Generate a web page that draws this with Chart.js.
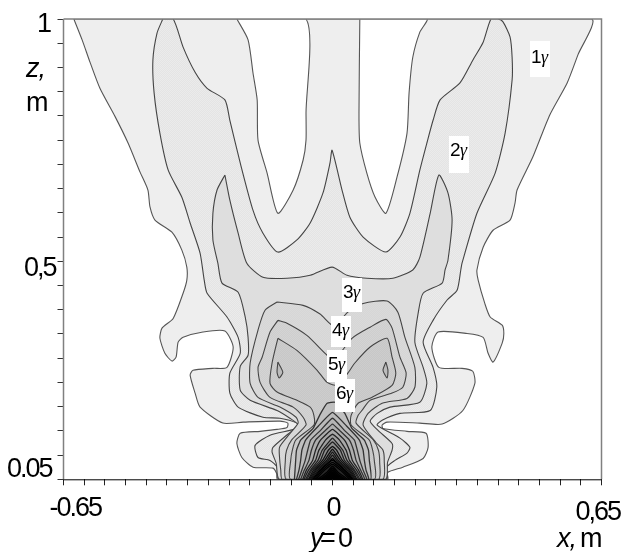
<!DOCTYPE html>
<html><head><meta charset="utf-8">
<style>html,body{margin:0;padding:0;background:#fff}canvas{display:block}</style>
<script src="https://cdn.jsdelivr.net/npm/chart.js@4/dist/chart.umd.min.js"></script>
</head><body><canvas id="c" width="624" height="552"></canvas>
<script>
// contour outlines, [x metres, z metres]
const level1=[[-.625,1],[-.605,.957],[-.586,.911],[-.562,.857],[-.525,.798],[-.494,.744],[-.465,.684],[-.446,.647],[-.441,.612],[-.429,.585],[-.388,.560],[-.364,.523],[-.352,.488],[-.352,.461],[-.361,.434],[-.385,.382],[-.412,.362],[-.417,.341],[-.405,.310],[-.388,.294],[-.378,.302],[-.373,.333],[-.361,.343],[-.313,.354],[-.260,.356],[-.240,.323],[-.255,.281],[-.289,.279],[-.337,.275],[-.344,.265],[-.332,.228],[-.320,.199],[-.265,.166],[-.216,.168],[-.127,.170],[-.108,.166],[-.110,.157],[-.134,.153],[-.175,.149],[-.223,.145],[-.231,.124],[-.219,.095],[-.192,.075],[-.144,.073],[-.135,.062],[-.133,.05],[.133,.05],[.133,.064],[.170,.075],[.219,.093],[.231,.116],[.226,.145],[.180,.149],[.122,.155],[.120,.162],[.132,.168],[.211,.166],[.265,.164],[.315,.192],[.344,.248],[.339,.273],[.313,.279],[.257,.281],[.240,.323],[.255,.354],[.325,.351],[.364,.343],[.376,.310],[.388,.292],[.410,.331],[.414,.351],[.410,.368],[.381,.385],[.368,.413],[.352,.461],[.349,.482],[.364,.529],[.388,.564],[.429,.585],[.441,.620],[.446,.647],[.484,.715],[.525,.802],[.567,.868],[.593,.926],[.625,1]];
const holeLeft=[[-.231,1],[-.204,.957],[-.192,.888],[-.182,.833],[-.180,.750],[-.158,.682],[-.132,.599],[-.095,.647],[-.071,.709],[-.064,.750],[-.064,.806],[-.064,1]];
const holeRight=[[.066,1],[.064,.806],[.066,.744],[.083,.682],[.103,.632],[.129,.599],[.156,.674],[.180,.764],[.185,.847],[.194,.921],[.211,.973],[.228,1]];
const level2=[[-.410,1],[-.424,.971],[-.434,.915],[-.431,.847],[-.417,.764],[-.397,.688],[-.364,.632],[-.344,.579],[-.320,.517],[-.310,.461],[-.303,.434],[-.255,.385],[-.228,.343],[-.223,.310],[-.248,.269],[-.248,.228],[-.228,.199],[-.168,.178],[-.127,.176],[-.086,.166],[-.079,.157],[-.103,.151],[-.151,.141],[-.187,.120],[-.180,.095],[-.151,.089],[-.134,.075],[-.130,.05],[.130,.05],[.131,.075],[.151,.089],[.180,.104],[.187,.116],[.163,.135],[.108,.162],[.120,.172],[.163,.186],[.236,.192],[.252,.240],[.243,.281],[.219,.333],[.243,.378],[.277,.420],[.301,.440],[.310,.482],[.313,.496],[.349,.599],[.393,.682],[.417,.764],[.434,.874],[.434,.921],[.429,.963],[.412,.994],[.400,1],[.383,1],[.364,.952],[.339,.915],[.308,.868],[.260,.833],[.243,.791],[.228,.744],[.211,.688],[.187,.599],[.163,.550],[.129,.519],[.074,.550],[.042,.591],[.023,.647],[-.001,.729],[-.006,.703],[-.023,.641],[-.054,.579],[-.086,.544],[-.132,.519],[-.168,.558],[-.192,.605],[-.223,.703],[-.248,.791],[-.260,.833],[-.303,.857],[-.332,.890],[-.361,.942],[-.385,1]];
const level3=[[-.260,.678],[-.279,.647],[-.289,.599],[-.289,.544],[-.277,.496],[-.267,.455],[-.228,.436],[-.211,.385],[-.204,.343],[-.204,.306],[-.223,.283],[-.223,.234],[-.199,.213],[-.134,.192],[-.103,.176],[-.083,.162],[-.108,.143],[-.144,.116],[-.146,.106],[-.136,.083],[-.128,.05],[.128,.05],[.133,.085],[.144,.110],[.144,.124],[.110,.151],[.091,.170],[.108,.186],[.139,.199],[.211,.209],[.228,.248],[.219,.281],[.199,.333],[.207,.393],[.219,.434],[.265,.455],[.272,.482],[.279,.502],[.289,.585],[.279,.641],[.257,.678],[.236,.599],[.211,.508],[.194,.482],[.146,.465],[.083,.465],[.035,.471],[-.001,.488],[-.054,.471],[-.110,.465],[-.168,.467],[-.207,.496],[-.228,.558],[-.248,.626]];
const level4=[[-.134,.416],[-.163,.399],[-.180,.358],[-.199,.290],[-.199,.248],[-.180,.219],[-.127,.199],[-.088,.178],[-.083,.166],[-.110,.137],[-.128,.116],[-.128,.095],[-.125,.069],[-.121,.05],[.121,.05],[.125,.089],[.122,.110],[.105,.126],[.074,.162],[.086,.186],[.120,.207],[.180,.217],[.199,.240],[.199,.281],[.175,.343],[.158,.395],[.132,.418],[.074,.413],[.037,.395],[.004,.366],[-.030,.391],[-.071,.409]];
const level5=[[-.132,.378],[-.151,.354],[-.170,.302],[-.180,.281],[-.175,.250],[-.151,.219],[-.095,.199],[-.071,.178],[-.064,.162],[-.099,.131],[-.111,.110],[-.114,.089],[-.111,.05],[.111,.05],[.114,.085],[.111,.110],[.099,.131],[.057,.166],[.062,.182],[.071,.192],[.091,.213],[.144,.228],[.170,.240],[.178,.269],[.163,.302],[.144,.362],[.129,.380],[.091,.364],[.047,.341],[.004,.296],[-.013,.306],[-.062,.347],[-.110,.372]];
const level6=[[-.132,.341],[-.146,.290],[-.151,.248],[-.134,.230],[-.086,.213],[-.054,.199],[-.045,.182],[-.045,.162],[-.089,.131],[-.097,.110],[-.101,.089],[-.101,.05],[.101,.05],[.101,.089],[.097,.110],[.089,.131],[.045,.162],[.045,.182],[.062,.207],[.095,.219],[.144,.244],[.153,.269],[.144,.302],[.132,.341],[.091,.323],[.054,.290],[.037,.269],[.013,.244],[-.013,.250],[-.037,.275],[-.086,.316]];
const eyeLeft=[[-.132,.292],[-.120,.271],[-.129,.259],[-.134,.271]];
const eyeRight=[[.129,.292],[.134,.275],[.132,.259],[.122,.275]];
const level7=[[-.092,.05],[-.089,.089],[-.087,.110],[-.077,.131],[-.047,.155],[-.030,.184],[-.013,.207],[.006,.209],[.030,.186],[.047,.155],[.077,.131],[.087,.110],[.089,.089],[.092,.05]];
const level8=[[-.087,.05],[-.081,.069],[-.077,.089],[-.074,.110],[-.065,.131],[-.034,.160],[0,.188],[.034,.160],[.065,.131],[.074,.110],[.077,.089],[.081,.069],[.087,.05]];
const level9=[[-.082,.05],[-.074,.069],[-.066,.089],[-.060,.110],[-.053,.131],[-.029,.151],[0,.176],[.029,.151],[.053,.131],[.060,.110],[.066,.089],[.074,.069],[.082,.05]];
const level10=[[-.077,.05],[-.068,.069],[-.057,.089],[-.051,.110],[-.041,.131],[-.017,.151],[0,.164],[.017,.151],[.041,.131],[.051,.110],[.057,.089],[.068,.069],[.077,.05]];
const level11=[[-.072,.05],[-.063,.069],[-.048,.089],[-.041,.110],[-.029,.131],[0,.153],[.029,.131],[.041,.110],[.048,.089],[.063,.069],[.072,.05]];
const level12=[[-.069,.05],[-.058,.069],[-.041,.089],[-.033,.110],[-.017,.131],[0,.143],[.017,.131],[.033,.110],[.041,.089],[.058,.069],[.069,.05]];
const level13=[[-.065,.05],[-.053,.069],[-.035,.089],[-.025,.110],[-.005,.131],[0,.135],[.005,.131],[.025,.110],[.035,.089],[.053,.069],[.065,.05]];
const level14=[[-.062,.05],[-.050,.069],[-.029,.089],[-.019,.110],[0,.127],[.019,.110],[.029,.089],[.050,.069],[.062,.05]];
const level15=[[-.058,.05],[-.046,.069],[-.024,.089],[-.010,.110],[0,.118],[.010,.110],[.024,.089],[.046,.069],[.058,.05]];
const level16=[[-.056,.05],[-.042,.069],[-.019,.089],[0,.112],[.019,.089],[.042,.069],[.056,.05]];
const level17=[[-.053,.05],[-.039,.069],[-.014,.089],[0,.106],[.014,.089],[.039,.069],[.053,.05]];
const level18=[[-.051,.05],[-.035,.069],[-.010,.089],[0,.100],[.010,.089],[.035,.069],[.051,.05]];
const level19=[[-.048,.05],[-.031,.069],[-.005,.089],[0,.093],[.005,.089],[.031,.069],[.048,.05]];
const level20=[[-.046,.05],[-.028,.069],[0,.089],[.028,.069],[.046,.05]];
const level21=[[-.043,.05],[-.024,.069],[0,.085],[.024,.069],[.043,.05]];
const level22=[[-.040,.05],[-.019,.069],[0,.081],[.019,.069],[.040,.05]];
const level23=[[-.036,.05],[-.014,.064],[0,.077],[.014,.064],[.036,.05]];
const level24=[[-.031,.05],[-.014,.06],[0,.073],[.014,.06],[.031,.05]];
const level25=[[-.027,.05],[-.012,.058],[0,.069],[.012,.058],[.027,.05]];
const level26=[[-.019,.05],[-.010,.056],[0,.064],[.010,.056],[.019,.05]];

const xTickValues=[-.65,0,.65];
const xTickLabels=["-0.65","0","0,65"];
const zTickValues=[1,.5,.05];
const zTickLabels=["1","0,5","0.05"];

function stipple(a,b){const p=document.createElement('canvas');p.width=p.height=2;const g=p.getContext('2d');
 g.fillStyle=a;g.fillRect(0,0,2,2);g.fillStyle=b;g.fillRect(0,0,1,1);g.fillRect(1,1,1,1);
 return g.createPattern(p,'repeat');}

const layers=[
 [level1,'#eeeeee','#555'],[holeLeft,'#ffffff','#555'],[holeRight,'#ffffff','#555'],
 [level2,stipple('#e4e4e4','#ebebeb'),'#444'],[level3,'#dedede','#444'],[level4,stipple('#d6d6d6','#dadada'),'#444'],
 [level5,stipple('#cecece','#d4d4d4'),'#444'],[level6,stipple('#c7c7c7','#cdcdcd'),'#444'],
 [eyeLeft,'#bcbcbc','#444'],[eyeRight,'#bcbcbc','#444'],
 [level7,'#c0c0c0','#333'],[level8,'#bababa','#333'],[level9,'#b4b4b4','#333'],[level10,'#aeaeae','#333'],
 [level11,'#a8a8a8','#222'],[level12,'#a0a0a0','#222'],[level13,'#989898','#222'],[level14,'#8e8e8e','#222'],
 [level15,'#848484','#111'],[level16,'#787878','#111'],[level17,'#6c6c6c','#111'],[level18,'#606060','#111'],
 [level19,'#525252','#000'],[level20,'#444444','#000'],[level21,'#363636','#000'],[level22,'#282828','#000'],
 [level23,'#1a1a1a','#000'],[level24,'#0e0e0e','#000'],[level25,'#060606','#000'],[level26,'#000000','#000']
];

const datasets=layers.map(([pts,fill,line],i)=>({
 data:pts.concat([pts[0]]).map(p=>({x:p[0],y:p[1]})),
 showLine:true,fill:'shape',backgroundColor:fill,borderColor:line,borderWidth:i>=10?1.3:1.1,
 pointRadius:0,tension:i>=10?.12:.22,order:-i
}));

const textPlugin={id:'texts',afterDraw(chart){
 const c=chart.ctx,a=chart.chartArea,xs=chart.scales.x,ys=chart.scales.y;
 c.save();
 c.strokeStyle='#808080';c.lineWidth=1.5;c.beginPath();
 c.moveTo(a.left,a.top);c.lineTo(a.right,a.top);c.lineTo(a.right,a.bottom);
 c.moveTo(a.left,a.top);c.lineTo(a.left,a.bottom);c.stroke();
 c.strokeStyle='#000';c.lineWidth=1;c.beginPath();c.moveTo(a.left,a.bottom+.5);c.lineTo(a.right,a.bottom+.5);c.stroke();
 c.fillStyle='#000';c.textBaseline='alphabetic';c.textAlign='left';
 const sans='27px "Liberation Sans"',ital='italic 27px "Liberation Sans"';
 const put=(t,x,y,f,s)=>{c.font=f||sans;c.letterSpacing=(s===undefined?-2:s)+'px';c.fillText(t,x,y);};
 // tick labels anchored to the axes
 const xp=xTickValues.map(v=>xs.getPixelForValue(v)),zp=zTickValues.map(v=>ys.getPixelForValue(v));
 put(xTickLabels[0],xp[0]-14,516);put(xTickLabels[1],xp[1]-6,516);put(xTickLabels[2],xp[2]-26,520);
 put(zTickLabels[0],37,zp[0]+13);put(zTickLabels[1],24,zp[1]+15);put(zTickLabels[2],7,zp[2]-2);
 // axis names
 put('z,',26,77,ital,-1);put('m',26,111,sans,0);
 put('y',310,547,ital,0);put('=',320,547,sans,0);put('0',338,547,sans,0);
 put('x,',557,547,ital,-1);put('m',580,547,sans,0);
 // level labels
 const boxes=[['1',530,41,20,36,63],['2',449,136,20,37,156],['3',342,278,20,34,298],['4',331,316,20,31,336],['5',327,350,20,32,370],['6',335,379,20,33,399]];
 for(const [n,bx,by,bw,bh,base] of boxes){
  c.fillStyle='#fff';c.fillRect(bx,by,bw,bh);c.fillStyle='#000';
  put(n,bx+1,base,'19px "Liberation Sans"',0);
  put('γ',bx+11,base,'italic 18px "Liberation Serif"',0);
 }
 c.restore();
}};

new Chart(document.getElementById('c'),{
 type:'scatter',
 data:{datasets},
 plugins:[textPlugin],
 options:{
  responsive:false,animation:false,devicePixelRatio:1,
  layout:{padding:{left:0,top:19,right:22.5,bottom:0}},
  plugins:{legend:{display:false},tooltip:{enabled:false},title:{display:false}},
  scales:{
   x:{type:'linear',min:-.65,max:.65,
      afterFit(s){s.height=72.7;},
      ticks:{stepSize:.05,display:false,autoSkip:false},
      border:{display:false},
      grid:{drawOnChartArea:false,drawTicks:true,tickLength:6,color:'#222',z:1}},
   y:{type:'linear',min:.05,max:1,
      afterFit(s){s.width=63.5;},
      ticks:{stepSize:.05,display:false,autoSkip:false},
      border:{display:false},
      grid:{drawOnChartArea:false,drawTicks:true,tickLength:6,color:'#333',z:1}}
  }
 }
});
</script></body></html>
